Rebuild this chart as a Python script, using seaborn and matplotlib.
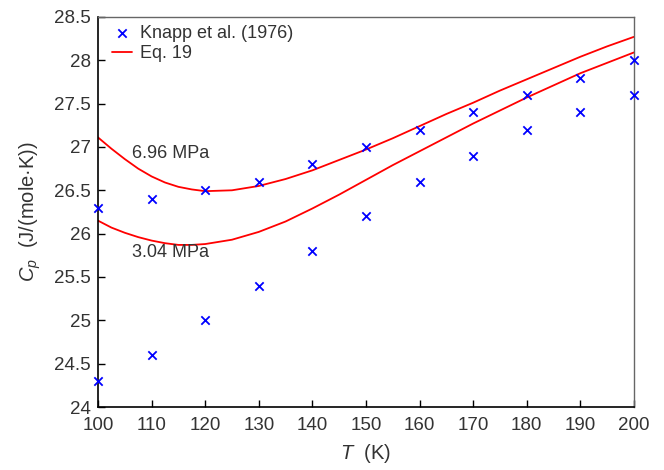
import matplotlib
matplotlib.use("Agg")
import matplotlib.pyplot as plt
import seaborn as sns
import pandas as pd
import numpy as np

# Experimental data (Knapp et al. 1976)
T_exp = [100, 110, 120, 130, 140, 150, 160, 170, 180, 190, 200]
cp_696 = [26.3, 26.4, 26.5, 26.6, 26.8, 27.0, 27.2, 27.4, 27.6, 27.8, 28.0]
cp_304 = [24.3, 24.6, 25.0, 25.4, 25.8, 26.2, 26.6, 26.9, 27.2, 27.4, 27.6]

# Eq. 19 curves
T_eq = [100, 102.5, 105, 107.5, 110, 112.5, 115, 117.5, 120, 125, 130, 135, 140,
        145, 150, 155, 160, 165, 170, 175, 180, 185, 190, 195, 200]
eq_696 = [27.11, 26.98, 26.86, 26.75, 26.66, 26.59, 26.54, 26.51, 26.49, 26.50,
          26.55, 26.63, 26.73, 26.85, 26.97, 27.10, 27.24, 27.38, 27.51, 27.65,
          27.78, 27.91, 28.04, 28.16, 28.27]
eq_304 = [26.15, 26.07, 26.01, 25.96, 25.92, 25.89, 25.87, 25.87, 25.88, 25.93,
          26.02, 26.14, 26.29, 26.45, 26.62, 26.79, 26.95, 27.11, 27.27, 27.42,
          27.57, 27.71, 27.85, 27.97, 28.09]

sns.set_theme(style="white")
plt.rcParams['font.family'] = ['Liberation Sans', 'DejaVu Sans']
plt.rcParams['mathtext.fontset'] = 'custom'
plt.rcParams['mathtext.rm'] = 'Liberation Sans'
plt.rcParams['mathtext.it'] = 'Liberation Sans:italic'

df_exp = pd.DataFrame({"T": T_exp * 2, "Cp": cp_696 + cp_304,
                       "P": ["6.96"] * len(T_exp) + ["3.04"] * len(T_exp)})
df_eq = pd.DataFrame({"T": T_eq * 2, "Cp": eq_696 + eq_304,
                      "P": ["6.96"] * len(T_eq) + ["3.04"] * len(T_eq)})

fig = plt.figure(figsize=(6.64, 4.70), dpi=100)
ax = fig.add_axes([0.1476, 0.134, 0.807, 0.830])

for i, (p, g) in enumerate(df_eq.groupby("P", sort=False)):
    sns.lineplot(data=g, x="T", y="Cp", ax=ax, color="#ff0000", lw=1.3,
                 label="Eq. 19" if i == 0 else None, sort=True, estimator=None)
sns.scatterplot(data=df_exp, x="T", y="Cp", ax=ax, marker="x", color="#0000ff",
                s=36, linewidth=1.3, label="Knapp et al. (1976)", clip_on=False, zorder=5)

ax.set_xlim(100, 200)
ax.set_ylim(24, 28.5)
ax.set_xticks(np.arange(100, 201, 10))
ax.set_yticks(np.arange(24, 28.51, 0.5))
ax.set_yticklabels(["24", "24.5", "25", "25.5", "26", "26.5", "27", "27.5", "28", "28.5"])

ax.tick_params(axis="both", direction="in", length=5, width=1, colors="black",
               labelcolor="#333333", labelsize=13.5, top=False, right=False,
               bottom=True, left=True)
ax.tick_params(axis="x", pad=7)
ax.tick_params(axis="y", pad=5)
for s in ["left", "bottom"]:
    ax.spines[s].set_color("black")
    ax.spines[s].set_linewidth(1.2)
for s in ["top", "right"]:
    ax.spines[s].set_color("#666666")
    ax.spines[s].set_linewidth(1.0)

ax.set_xlabel("$T$  (K)", fontsize=14.5, color="#333333", labelpad=6)
ax.set_ylabel("$C_p$  (J/(mole·K))", fontsize=14.5, color="#333333", labelpad=8)

ax.text(106.3, 26.93, "6.96 MPa", fontsize=13, color="#333333", va="center", ha="left")
ax.text(106.3, 25.78, "3.04 MPa", fontsize=13, color="#333333", va="center", ha="left")

h, l = ax.get_legend_handles_labels()
order = [l.index("Knapp et al. (1976)"), l.index("Eq. 19")]
leg = ax.legend([h[i] for i in order], [l[i] for i in order], loc="upper left",
                frameon=False, fontsize=13, handlelength=1.1, borderaxespad=0.3,
                labelspacing=0.2, handletextpad=0.45, bbox_to_anchor=(0.003, 1.012))
for t in leg.get_texts():
    t.set_color("#333333")

fig.savefig("out.png", dpi=100)
